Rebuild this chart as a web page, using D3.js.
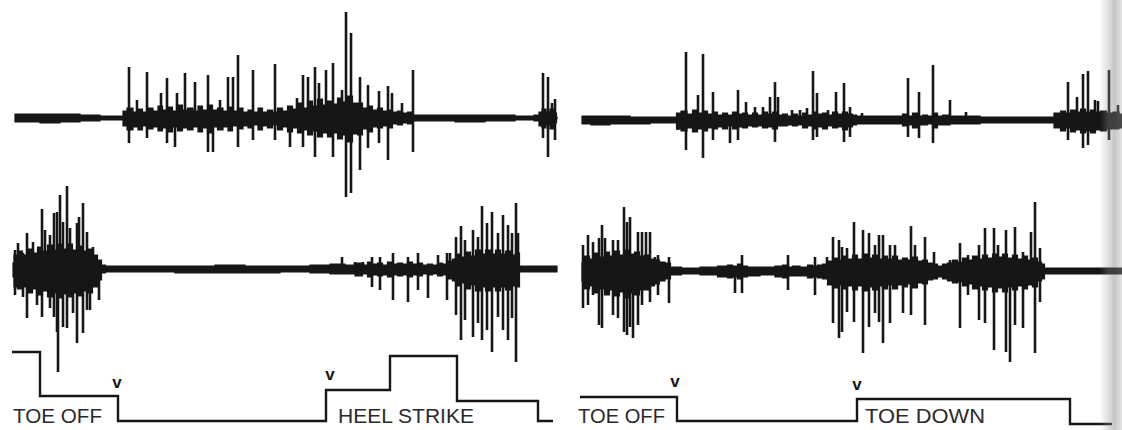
<!DOCTYPE html>
<html><head><meta charset="utf-8">
<script src="https://cdn.jsdelivr.net/npm/d3@7"></script>
<style>html,body{margin:0;padding:0;background:#fff;}svg{display:block;}</style>
</head><body>
<svg id="chart" width="1122" height="430"></svg>
<script>
// ---------- DATA (time units per panel, amplitudes up/down from baseline) ----------
// envelope rows: [t, up, down]; spike rows: [t, up, down]
const topLeftEnv = [[5,4,4],[20,4,4],[40,4,5],[60,4,4],[80,3,3],[100,2,2],[112,2,2],[114,7,8],[120,10,12],[126,6,9],[130,9,12],[135,6,8],[140,10,11],[146,7,9],[150,12,13],[155,8,10],[160,11,14],[165,7,9],[170,13,13],[175,8,10],[180,10,12],[186,7,9],[190,12,14],[195,8,10],[200,13,15],[205,8,9],[210,10,12],[216,7,9],[220,11,13],[225,7,8],[230,10,11],[236,6,8],[240,8,10],[246,6,7],[250,10,12],[255,6,8],[260,8,10],[265,6,7],[270,10,12],[275,7,9],[280,12,14],[285,9,10],[290,15,15],[295,10,12],[300,17,17],[305,12,13],[310,19,19],[315,13,15],[320,17,19],[325,14,15],[330,20,21],[335,16,17],[340,22,24],[345,15,16],[350,15,17],[355,10,11],[360,12,14],[365,8,9],[370,10,10],[375,7,8],[380,8,10],[385,6,6],[390,7,7],[395,5,5],[400,6,6],[405,3,3],[430,3,3],[460,3,4],[490,3,3],[520,2,2],[528,3,3],[530,6,8],[534,9,10],[538,6,7],[542,9,11],[546,5,5],[547,1,1]];
const topLeftSpikes = [[119,51,25],[127,18,0],[137,46,20],[151,25,0],[157,40,25],[165,0,29],[167,25,0],[175,45,0],[185,36,0],[198,43,34],[203,0,34],[210,18,0],[218,41,0],[223,41,0],[228,63,29],[243,48,22],[265,54,22],[280,0,29],[287,20,0],[293,43,29],[298,41,0],[305,51,39],[309,35,0],[316,48,0],[323,55,39],[332,28,0],[336,106,79],[341,85,75],[350,41,52],[358,33,30],[369,27,25],[378,32,42],[382,25,0],[392,15,0],[403,48,34],[533,45,20],[538,41,39],[542,15,0],[545,19,22]];

const topRightEnv = [[7,4,4],[25,4,5],[45,4,4],[65,3,4],[85,3,3],[100,3,3],[103,7,9],[109,9,11],[115,6,8],[120,10,12],[125,7,9],[130,9,11],[135,6,8],[140,8,9],[145,5,7],[150,7,9],[155,5,6],[160,8,9],[165,6,7],[170,7,8],[175,5,6],[180,7,7],[185,5,6],[190,8,8],[195,6,7],[200,8,9],[205,5,6],[210,6,6],[215,4,5],[220,6,6],[225,4,5],[230,7,8],[235,5,6],[240,8,9],[245,6,7],[250,7,9],[255,5,6],[260,8,8],[265,6,7],[270,8,10],[275,6,7],[280,5,5],[283,4,4],[295,4,4],[315,4,4],[325,4,4],[330,6,6],[335,4,5],[340,7,8],[345,4,5],[350,5,5],[355,4,4],[360,7,8],[365,4,5],[370,5,5],[380,4,4],[395,4,4],[415,3,3],[435,3,3],[455,3,3],[475,3,3],[483,7,8],[488,9,11],[493,7,8],[498,10,12],[503,8,10],[508,11,13],[513,8,11],[518,10,13],[523,8,10],[528,9,11],[535,7,9],[541,8,9],[547,6,8]];
const topRightSpikes = [[103,0,10],[111,68,30],[123,25,0],[128,66,38],[138,28,20],[155,0,23],[163,30,20],[171,18,0],[180,13,0],[188,13,0],[195,23,0],[200,38,22],[203,23,0],[217,10,0],[225,10,0],[232,12,0],[238,49,20],[242,27,17],[253,10,0],[261,28,0],[269,37,22],[275,13,17],[287,7,0],[333,42,17],[344,28,18],[358,55,23],[375,20,0],[391,8,0],[493,38,20],[502,23,0],[508,46,28],[513,49,25],[520,20,0],[523,19,0],[534,50,20],[543,15,0]];

const midLeftEnv = [[3,6,8],[5,14,18],[10,18,20],[15,14,18],[20,20,24],[25,16,20],[30,22,26],[35,18,22],[40,24,28],[45,19,24],[50,25,29],[55,20,25],[60,25,28],[65,19,24],[70,23,27],[75,18,22],[80,20,24],[85,14,18],[90,9,11],[93,4,4],[98,3,3],[140,3,3],[190,3,4],[220,4,4],[250,3,4],[290,3,3],[310,4,4],[330,5,5],[340,4,5],[350,6,7],[355,4,5],[360,7,8],[365,5,6],[370,6,7],[375,4,6],[380,7,8],[385,5,6],[390,6,7],[395,5,6],[400,7,8],[405,5,6],[410,6,7],[415,4,5],[420,5,6],[425,4,5],[430,6,7],[435,5,6],[440,8,10],[445,10,12],[448,15,17],[453,12,14],[458,17,20],[463,13,16],[468,19,22],[473,15,18],[478,19,22],[483,15,18],[488,19,22],[493,15,18],[498,18,21],[503,14,17],[508,16,18],[511,3,3],[530,3,3],[547,3,3]];
const midLeftSpikes = [[5,19,26],[8,26,0],[13,16,28],[17,36,49],[23,27,0],[27,0,36],[32,60,48],[35,39,0],[40,34,39],[44,56,48],[47,57,63],[48,0,103],[50,74,0],[53,47,58],[57,83,59],[60,41,0],[63,0,44],[67,46,74],[69,52,0],[73,66,64],[77,37,41],[80,0,41],[83,22,0],[89,9,31],[332,12,0],[345,7,0],[353,7,0],[362,12,18],[370,12,21],[383,16,31],[398,12,33],[408,16,21],[418,0,29],[428,14,0],[437,16,31],[440,16,0],[446,32,46],[451,43,71],[455,29,51],[463,39,68],[468,32,54],[472,63,71],[477,46,61],[482,57,83],[488,36,48],[493,54,61],[498,44,71],[502,36,49],[506,66,93],[508,36,0]];

const midRightEnv = [[7,8,10],[12,15,18],[17,12,15],[22,18,22],[27,14,18],[32,19,24],[37,15,19],[42,20,25],[47,16,21],[52,21,27],[57,17,22],[62,19,24],[67,15,19],[72,16,19],[77,12,15],[82,11,13],[87,9,10],[93,8,8],[98,4,4],[115,3,3],[135,4,4],[150,5,6],[155,6,7],[160,5,6],[165,7,8],[170,5,6],[175,4,5],[195,4,4],[205,5,6],[210,6,7],[215,4,5],[220,5,5],[230,4,5],[235,6,7],[240,5,6],[245,6,7],[250,7,8],[255,10,14],[260,13,17],[265,11,14],[270,15,18],[275,12,15],[280,16,19],[285,12,15],[290,17,20],[295,13,16],[300,16,19],[305,12,15],[310,15,18],[315,12,14],[320,15,18],[325,11,14],[330,13,16],[335,11,13],[340,14,17],[345,10,12],[350,11,13],[355,8,9],[360,7,8],[365,5,6],[370,7,8],[375,8,10],[380,11,12],[385,9,11],[390,13,15],[395,11,13],[400,15,18],[405,12,15],[410,16,19],[415,13,16],[420,17,21],[425,14,17],[430,17,21],[435,13,16],[440,16,19],[445,12,15],[450,15,18],[455,11,14],[460,13,16],[465,9,10],[468,7,8],[471,3,3],[495,3,3],[525,3,3],[547,3,3]];
const midRightSpikes = [[8,26,37],[13,36,34],[18,29,24],[24,33,54],[27,46,57],[30,33,0],[38,31,44],[43,31,47],[49,64,61],[52,49,64],[55,54,56],[58,0,67],[63,39,54],[67,39,34],[71,39,0],[75,39,31],[80,14,0],[83,16,24],[94,14,32],[160,0,22],[167,16,22],[213,16,19],[240,14,24],[252,14,0],[258,34,52],[264,31,67],[267,24,61],[272,23,41],[279,49,51],[288,41,82],[294,38,56],[300,26,42],[304,36,51],[308,36,72],[315,26,52],[320,26,0],[328,0,42],[336,45,44],[340,26,0],[350,34,54],[359,19,0],[375,11,0],[385,28,57],[393,16,24],[404,26,49],[410,43,52],[419,43,79],[423,26,0],[431,41,81],[435,0,91],[440,44,54],[448,19,57],[456,39,0],[460,69,82],[465,23,31]];

// footswitch steps: [t, level]
const leftSteps = [[2,69],[30,25],[108,0],[316,31],[380,65],[447,20],[528,0],[543,0]];
const rightSteps = [[5,24],[102,0],[282,22],[495,-3],[537,-3]];

// event labels and markers
const leftLabels = [{t:3,text:"TOE OFF",len:89},{t:328,text:"HEEL STRIKE",len:136}];
const rightLabels = [{t:3,text:"TOE OFF",len:87},{t:290,text:"TOE DOWN",len:120}];
const leftMarks = [{t:107,lift:33},{t:320,lift:41}];
const rightMarks = [{t:100,lift:34},{t:282,lift:31}];

// ---------- DRAW ----------
const svg = d3.select("#chart");
const ink = "#161616";

const panels = [
  {x0:10, env:[topLeftEnv, midLeftEnv], spikes:[topLeftSpikes, midLeftSpikes], steps:leftSteps, labels:leftLabels, marks:leftMarks},
  {x0:575, env:[topRightEnv, midRightEnv], spikes:[topRightSpikes, midRightSpikes], steps:rightSteps, labels:rightLabels, marks:rightMarks}
];
const baselines = [[118,269],[120,271]];
const stepBase = 421;

panels.forEach((p, pi) => {
  const x = d3.scaleLinear().domain([0,550]).range([p.x0, p.x0+550]);
  p.env.forEach((env, ti) => {
    const b = baselines[pi][ti];
    const y = d3.scaleLinear().domain([-120,120]).range([b+120, b-120]);
    const area = d3.area().x(d => x(d[0])).y0(d => y(-d[2])).y1(d => y(d[1])).curve(d3.curveStep);
    svg.append("path").datum(env).attr("d", area)
      .attr("fill", ink).attr("stroke", ink).attr("stroke-width", 1.2);
    svg.append("g").selectAll("line").data(p.spikes[ti]).join("line")
      .attr("x1", d => x(d[0])).attr("x2", d => x(d[0]))
      .attr("y1", d => y(d[1])).attr("y2", d => y(-d[2]))
      .attr("stroke", ink).attr("stroke-width", 2.6);
  });
  const ys = d3.scaleLinear().domain([-50,100]).range([stepBase+50, stepBase-100]);
  const line = d3.line().x(d => x(d[0])).y(d => ys(d[1])).curve(d3.curveStepAfter);
  svg.append("path").datum(p.steps).attr("d", line)
    .attr("fill","none").attr("stroke", ink).attr("stroke-width", 2.4);
  svg.append("g").selectAll("text").data(p.labels).join("text")
    .attr("x", d => x(d.t)).attr("y", 423)
    .attr("textLength", d => d.len).attr("lengthAdjust","spacingAndGlyphs")
    .attr("font-family","Liberation Sans, Arial, sans-serif").attr("font-size", 21)
    .attr("fill","#2a2a2a").text(d => d.text);
  svg.append("g").selectAll("text").data(p.marks).join("text")
    .attr("x", d => x(d.t)).attr("y", d => ys(d.lift))
    .attr("text-anchor","middle")
    .attr("font-family","Liberation Sans, Arial, sans-serif").attr("font-size", 17).attr("font-weight","bold")
    .attr("fill", ink).text("v");
});

// page-binding shadow at the right edge
const defs = svg.append("defs");
const g = defs.append("linearGradient").attr("id","shade").attr("x1","0").attr("x2","1").attr("y1","0").attr("y2","0");
[[0,"#888",0],[0.35,"#999",0.3],[0.65,"#777",0.42],[1,"#aaa",0.35]].forEach(s =>
  g.append("stop").attr("offset", s[0]).attr("stop-color", s[1]).attr("stop-opacity", s[2]));
svg.append("rect").attr("x",1100).attr("y",0).attr("width",22).attr("height",430).attr("fill","url(#shade)");
</script>
</body></html>
